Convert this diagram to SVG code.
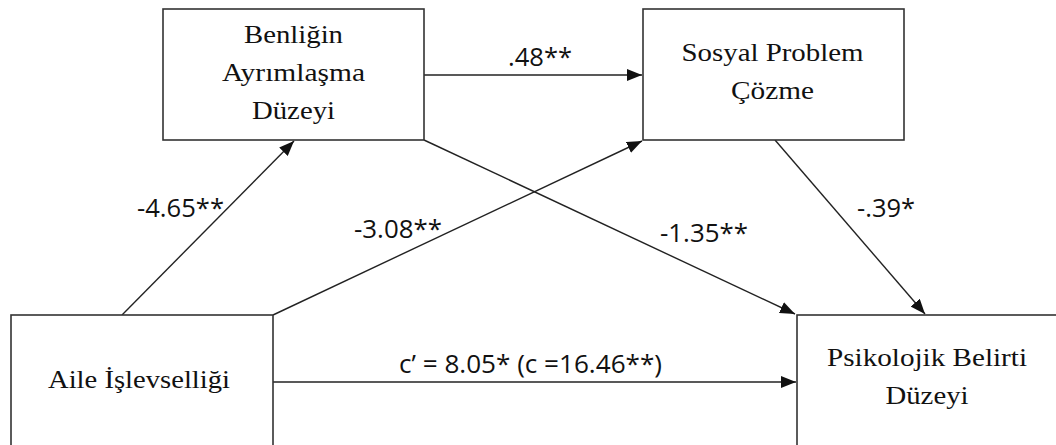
<svg xmlns="http://www.w3.org/2000/svg" width="1056" height="445" viewBox="0 0 1056 445">
<style>
.box{fill:#fff;stroke:#333;stroke-width:1.6}
.t{font-family:"Liberation Serif","Times New Roman",serif;font-size:26px;fill:#111;text-anchor:middle}
.l{font-family:"Open Sans","Liberation Sans",sans-serif;font-size:26px;fill:#111}
.c{stroke:#222;stroke-width:1.4;fill:none;marker-end:url(#ah)}
</style>
<defs>
<marker id="ah" markerUnits="userSpaceOnUse" markerWidth="16" markerHeight="12" refX="15" refY="6" orient="auto">
<path d="M0,0 L15,6 L0,12 Z" fill="#111"/>
</marker>
</defs>
<rect width="1056" height="445" fill="#fff"/>
<g id="connectors">
<line class="c" x1="424" y1="75" x2="642" y2="75"/>
<line class="c" x1="122" y1="315" x2="294" y2="141"/>
<line class="c" x1="273" y1="315" x2="642" y2="141"/>
<line class="c" x1="424" y1="140" x2="795" y2="314"/>
<line class="c" x1="775" y1="140" x2="925" y2="314"/>
<line class="c" x1="273" y1="382" x2="796" y2="382"/>
<text class="l" x="508" y="66" textLength="64" lengthAdjust="spacingAndGlyphs">.48**</text>
<text class="l" x="137" y="217" textLength="87" lengthAdjust="spacingAndGlyphs">-4.65**</text>
<text class="l" x="354" y="238" textLength="88" lengthAdjust="spacingAndGlyphs">-3.08**</text>
<text class="l" x="660" y="242" textLength="88" lengthAdjust="spacingAndGlyphs">-1.35**</text>
<text class="l" x="857" y="217" textLength="58" lengthAdjust="spacingAndGlyphs">-.39*</text>
<text class="l" x="399" y="373" textLength="263" lengthAdjust="spacingAndGlyphs">c’ = 8.05* (c =16.46**)</text>
</g>
<g id="benligin">
<rect class="box" x="163" y="9" width="261" height="131"/>
<text class="t" x="293.5" y="43" textLength="99" lengthAdjust="spacingAndGlyphs">Benliğin</text>
<text class="t" x="293.5" y="81" textLength="143" lengthAdjust="spacingAndGlyphs">Ayrımlaşma</text>
<text class="t" x="293.5" y="119" textLength="83" lengthAdjust="spacingAndGlyphs">Düzeyi</text>
</g>
<g id="sosyal">
<rect class="box" x="643" y="9" width="261" height="131"/>
<text class="t" x="772.5" y="61" textLength="182" lengthAdjust="spacingAndGlyphs">Sosyal Problem</text>
<text class="t" x="772.5" y="99" textLength="83" lengthAdjust="spacingAndGlyphs">Çözme</text>
</g>
<g id="aile">
<rect class="box" x="11" y="315" width="262" height="160"/>
<text class="t" x="139" y="388" textLength="182" lengthAdjust="spacingAndGlyphs">Aile İşlevselliği</text>
</g>
<g id="psikolojik">
<rect class="box" x="797" y="315" width="300" height="160"/>
<text class="t" x="927" y="366" textLength="200" lengthAdjust="spacingAndGlyphs">Psikolojik Belirti</text>
<text class="t" x="927" y="404" textLength="83" lengthAdjust="spacingAndGlyphs">Düzeyi</text>
</g>
</svg>
